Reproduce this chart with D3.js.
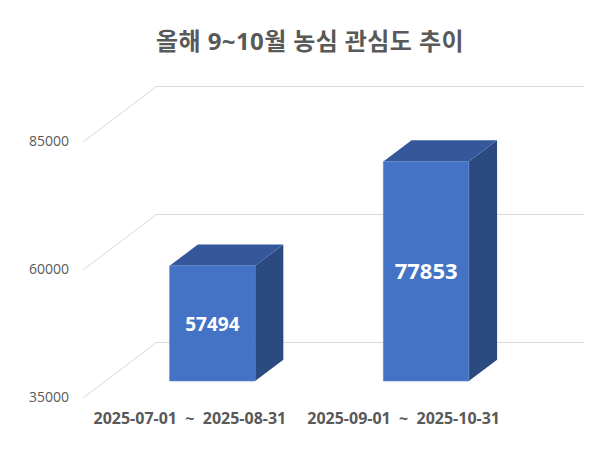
<!DOCTYPE html>
<html>
<head>
<meta charset="utf-8">
<script src="https://cdn.jsdelivr.net/npm/d3@7"></script>
<style>
  body { margin: 0; background: #fff; }
  text { font-family: "Open Sans", "Noto Sans CJK KR", sans-serif; }
</style>
</head>
<body>
<div id="canvas"></div>
<script>
// chart data
var categories = ["2025-07-01 ~ 2025-08-31", "2025-09-01 ~ 2025-10-31"];
var values = [57494, 77853];
var tickValues = [35000, 60000, 85000];
var title = "올해 9~10월 농심 관심도 추이";

var width = 600;
var height = 453;

// oblique 3D offset of the back wall
var depthX = 73.5;
var depthY = -55.5;
// bar sits in the middle of the depth
var zFront = 0.306;
var zBack = 0.69;

var svg = d3.select("#canvas")
  .append("svg")
  .attr("width", width)
  .attr("height", height);

// scales for the front plane
var y = d3.scaleLinear()
  .domain([35000, 85000])
  .range([398, 142]);

var x = d3.scaleBand()
  .domain(categories)
  .range([83, 510.5]);

var barW = x.bandwidth() * 0.4;

// project a point (x, value, depth) to the screen
var proj = (px, v, z) => [px + z * depthX, y(v) + z * depthY];

// title
svg.append("text")
  .attr("x", 310)
  .attr("y", 44)
  .attr("text-anchor", "middle")
  .attr("dominant-baseline", "middle")
  .style("font-size", "24px")
  .style("letter-spacing", "0.4px")
  .style("font-weight", "bold")
  .style("fill", "#595959")
  .text(title);

// gridlines: side wall diagonal + back wall horizontal
var grid = svg.append("g");
tickValues.forEach(v => {
  var a = proj(x.range()[0], v, 0);
  var b = proj(x.range()[0], v, 1);
  var c = proj(x.range()[1], v, 1);
  grid.append("path")
    .attr("d", d3.line()([a, b, c]))
    .style("fill", "none")
    .style("stroke", "#d9d9d9")
    .style("stroke-width", 1);
});

// y tick labels
svg.selectAll(".ytick")
  .data(tickValues)
  .enter()
  .append("text")
  .attr("class", "ytick")
  .attr("x", 69)
  .attr("y", d => y(d))
  .attr("text-anchor", "end")
  .attr("dominant-baseline", "middle")
  .style("font-size", "14px")
  .style("fill", "#595959")
  .text(d => d);

// bars
var labelSize = [19, 22];
var bars = svg.selectAll(".bar")
  .data(values)
  .enter()
  .append("g")
  .attr("class", "bar");

bars.each(function(v, i) {
  var g = d3.select(this);
  var cx = x(categories[i]) + x.bandwidth() / 2;
  var x0 = cx - barW / 2;
  var x1 = cx + barW / 2;
  var base = y.domain()[0];

  var side = [proj(x1, base, zFront), proj(x1, v, zFront), proj(x1, v, zBack), proj(x1, base, zBack)];
  var top = [proj(x0, v, zFront), proj(x1, v, zFront), proj(x1, v, zBack), proj(x0, v, zBack)];
  var front = [proj(x0, base, zFront), proj(x0, v, zFront), proj(x1, v, zFront), proj(x1, base, zFront)];

  g.append("path").attr("d", d3.line()(side) + "Z").style("fill", "#2b4a80");
  g.append("path").attr("d", d3.line()(top) + "Z").style("fill", "#34589a");
  g.append("path").attr("d", d3.line()(front) + "Z")
    .style("fill", "#4472c4")
    .style("stroke", "#5a84cc")
    .style("stroke-width", 0.6);

  // value label in the middle of the front face
  g.append("text")
    .attr("x", (front[0][0] + front[2][0]) / 2)
    .attr("y", (front[0][1] + front[1][1]) / 2 + 2)
    .attr("text-anchor", "middle")
    .attr("dominant-baseline", "middle")
    .style("font-size", labelSize[i] + "px")
    .style("font-weight", "bold")
    .style("fill", "#fff")
    .text(v);
});

// category labels
svg.selectAll(".xlabel")
  .data(categories)
  .enter()
  .append("text")
  .attr("class", "xlabel")
  .attr("x", d => x(d) + x.bandwidth() / 2)
  .attr("y", 420)
  .attr("text-anchor", "middle")
  .attr("dominant-baseline", "middle")
  .style("font-size", "16px")
  .style("font-weight", "bold")
  .style("white-space", "pre")
  .style("fill", "#595959")
  .text(d => d.replace(" ~ ", "  ~  "));
</script>
</body>
</html>
